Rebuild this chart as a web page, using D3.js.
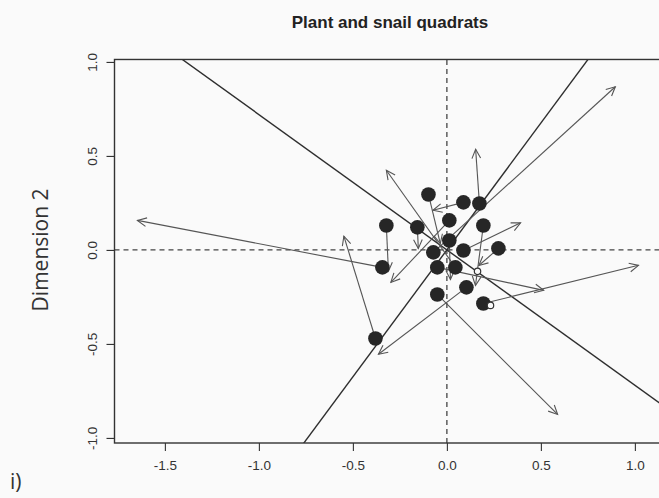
<!DOCTYPE html>
<html><head><meta charset="utf-8">
<script src="https://cdn.jsdelivr.net/npm/d3@7"></script>
<style>body{margin:0;background:#fafafa;}svg{display:block;}</style>
</head><body><div id="chart"></div>
<script>
// Black points (configuration 1), dimension 1 / dimension 2
const pointX = [-0.098, 0.088, 0.173, -0.322, -0.157, 0.013, 0.194, 0.013, -0.072, 0.088, 0.274, -0.343, -0.051, 0.045, 0.104, -0.051, 0.194, -0.380];
const pointY = [0.295, 0.253, 0.247, 0.130, 0.120, 0.157, 0.130, 0.050, -0.013, -0.003, 0.008, -0.093, -0.093, -0.093, -0.199, -0.237, -0.285, -0.471];
// Arrow heads (configuration 2)
const arrowX = [-0.035, -0.074, 0.153, -0.311, -0.152, -0.298, 0.152, 0.019, 0.896, 0.392, 0.170, -1.646, 0.515, -0.322, -0.364, 0.589, 1.019, -0.548];
const arrowY = [0.034, 0.211, 0.535, -0.114, 0.007, -0.173, -0.189, -0.157, 0.868, 0.144, -0.083, 0.157, -0.215, 0.424, -0.555, -0.875, -0.082, 0.073];
// Small open circles
const ringX = [0.163, 0.232];
const ringY = [-0.114, -0.295];
// Rotation axes (slopes in data units)
const axisSlopes = [-0.72, 1.35];
const xTicks = [-1.5, -1.0, -0.5, 0.0, 0.5, 1.0];
const yTicks = [-1.0, -0.5, 0.0, 0.5, 1.0];
const title = "Plant and snail quadrats";
const yLabel = "Dimension 2";
const panelLabel = "i)";

const W = 659, H = 498;
const svg = d3.select("#chart").append("svg").attr("width", W).attr("height", H);
svg.append("rect").attr("width", W).attr("height", H).attr("fill", "#fafafa");

const unit = 188;
const x = d3.scaleLinear().domain([-1.768, 1.25]).range([114.5, 114.5 + 3.018 * unit]);
const y = d3.scaleLinear().domain([-1.027, 1.013]).range([443, 443 - 2.04 * unit]);
const [xmin, xmax] = x.domain(), [ymin, ymax] = y.domain();

const defs = svg.append("defs");
defs.append("clipPath").attr("id", "clip").append("rect")
  .attr("x", x(xmin)).attr("y", y(ymax)).attr("width", x(xmax) - x(xmin)).attr("height", y(ymin) - y(ymax));

const g = svg.append("g").attr("clip-path", "url(#clip)");

// dashed zero lines
g.append("line").attr("x1", x(0)).attr("x2", x(0)).attr("y1", y(ymin)).attr("y2", y(ymax))
  .attr("stroke", "#444").attr("stroke-width", 1.3).attr("stroke-dasharray", "5,4");
g.append("line").attr("x1", x(xmin)).attr("x2", x(xmax)).attr("y1", y(0)).attr("y2", y(0))
  .attr("stroke", "#444").attr("stroke-width", 1.3).attr("stroke-dasharray", "5,4");

// rotation axes
axisSlopes.forEach(s => {
  g.append("line").attr("x1", x(-3)).attr("y1", y(-3 * s)).attr("x2", x(3)).attr("y2", y(3 * s))
    .attr("stroke", "#2e2e2e").attr("stroke-width", 1.4);
});

// arrows
const headLen = 10, headAng = Math.PI / 7;
pointX.forEach((px, i) => {
  const x1 = x(px), y1 = y(pointY[i]), x2 = x(arrowX[i]), y2 = y(arrowY[i]);
  g.append("line").attr("x1", x1).attr("y1", y1).attr("x2", x2).attr("y2", y2)
    .attr("stroke", "#555").attr("stroke-width", 1.1);
  const a = Math.atan2(y2 - y1, x2 - x1);
  const p = d3.path();
  p.moveTo(x2 - headLen * Math.cos(a - headAng), y2 - headLen * Math.sin(a - headAng));
  p.lineTo(x2, y2);
  p.lineTo(x2 - headLen * Math.cos(a + headAng), y2 - headLen * Math.sin(a + headAng));
  g.append("path").attr("d", p.toString()).attr("fill", "none").attr("stroke", "#555").attr("stroke-width", 1.1);
});

// points
g.selectAll("circle.pt").data(pointX).join("circle").attr("class", "pt")
  .attr("cx", d => x(d)).attr("cy", (d, i) => y(pointY[i])).attr("r", 7.3).attr("fill", "#262626");
g.selectAll("circle.ring").data(ringX).join("circle").attr("class", "ring")
  .attr("cx", d => x(d)).attr("cy", (d, i) => y(ringY[i])).attr("r", 3.2)
  .attr("fill", "#fafafa").attr("stroke", "#333").attr("stroke-width", 1.2);

// box
svg.append("rect").attr("x", x(xmin)).attr("y", y(ymax)).attr("width", x(xmax) - x(xmin)).attr("height", y(ymin) - y(ymax))
  .attr("fill", "none").attr("stroke", "#333").attr("stroke-width", 1.4);

// axes
const fmt = d => d3.format(".1f")(d).replace("−", "-");
const xAxis = d3.axisBottom(x).tickValues(xTicks).tickSize(8).tickPadding(9);
const ax = svg.append("g").attr("transform", `translate(0,${y(ymin)})`).call(xAxis);
ax.select(".domain").remove();
ax.selectAll("line").attr("stroke", "#333").attr("stroke-width", 1.1);
ax.selectAll("text").attr("font-family", "Liberation Sans, Arial, sans-serif").attr("font-size", 13.5).attr("fill", "#333").text(fmt);

const yAxis = d3.axisLeft(y).tickValues(yTicks).tickSize(8).tickPadding(6);
const ay = svg.append("g").attr("transform", `translate(${x(xmin)},0)`).call(yAxis);
ay.select(".domain").remove();
ay.selectAll("line").attr("stroke", "#333").attr("stroke-width", 1.1);
ay.selectAll("text").attr("font-family", "Liberation Sans, Arial, sans-serif").attr("font-size", 13.5).attr("fill", "#333")
  .text(fmt)
  .attr("text-anchor", "middle").attr("x", 0).attr("dy", 0)
  .attr("transform", "translate(-18,0) rotate(-90)");

svg.append("text").attr("x", 390).attr("y", 28).attr("text-anchor", "middle")
  .attr("font-family", "Liberation Sans, Arial, sans-serif").attr("font-weight", "bold").attr("font-size", 17).attr("fill", "#222").text(title);

svg.append("text").attr("transform", `translate(48,${y(0)}) rotate(-90)`).attr("text-anchor", "middle")
  .attr("font-family", "Open Sans, Noto Sans, sans-serif").attr("font-size", 21).attr("fill", "#333").text(yLabel);

svg.append("text").attr("x", 10).attr("y", 489)
  .attr("font-family", "Open Sans, Noto Sans, sans-serif").attr("font-size", 21).attr("fill", "#333").text(panelLabel);
</script></body></html>
